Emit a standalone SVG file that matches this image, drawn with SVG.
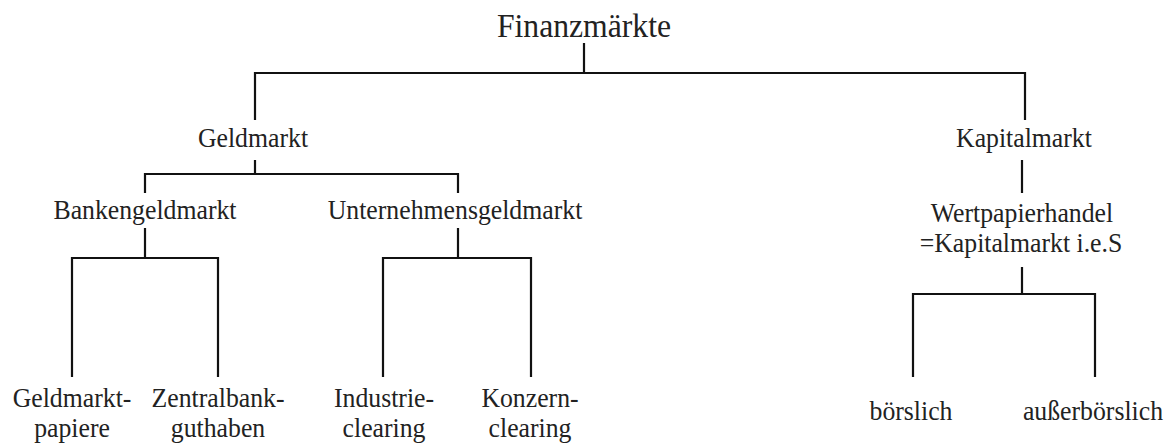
<svg xmlns="http://www.w3.org/2000/svg" width="1169" height="443" viewBox="0 0 1169 443">
<style>
text{font-family:"Liberation Serif","Times New Roman",serif;font-size:28px;fill:#222;text-anchor:middle}
.title{font-size:33px}
.n{transform:scale(0.92,1)}
.c{stroke:#111;stroke-width:2.2;fill:none}
</style>
<rect width="1169" height="443" fill="#fff"/>
<g id="connectors">
<path class="c" d="M584,43V73M255,120V73H1025V120"/>
<path class="c" d="M255,160V174M145,193V174H458V193"/>
<path class="c" d="M145,228V258M72,377V258H218V377"/>
<path class="c" d="M458,228V258M383,377V258H531V377"/>
<path class="c" d="M1022,160V193"/>
<path class="c" d="M1022,267V294M913,377V294H1095V377"/>
</g>
<g id="n-finanzmaerkte" transform="scale(0.96,1)"><text class="title" x="608.3" y="37">Finanzmärkte</text></g>
<g id="n-geldmarkt" class="n"><text x="275" y="147">Geldmarkt</text></g>
<g id="n-kapitalmarkt" class="n"><text x="1113" y="147">Kapitalmarkt</text></g>
<g id="n-bankengeldmarkt" class="n"><text x="157.6" y="219">Bankengeldmarkt</text></g>
<g id="n-unternehmensgeldmarkt" class="n"><text x="494.6" y="219">Unternehmensgeldmarkt</text></g>
<g id="n-wertpapierhandel" class="n"><text x="1110.9" y="222">Wertpapierhandel</text><text x="1109.8" y="252">=Kapitalmarkt i.e.S</text></g>
<g id="n-geldmarktpapiere" class="n"><text x="78.3" y="407">Geldmarkt-</text><text x="78.3" y="437">papiere</text></g>
<g id="n-zentralbankguthaben" class="n"><text x="237" y="407">Zentralbank-</text><text x="237" y="437">guthaben</text></g>
<g id="n-industrieclearing" class="n"><text x="417.4" y="407">Industrie-</text><text x="417.4" y="437">clearing</text></g>
<g id="n-konzernclearing" class="n"><text x="576.1" y="407">Konzern-</text><text x="576.1" y="437">clearing</text></g>
<g id="n-boerslich" class="n"><text x="990.2" y="420">börslich</text></g>
<g id="n-ausserboerslich" class="n"><text x="1188" y="420">außerbörslich</text></g>
</svg>
